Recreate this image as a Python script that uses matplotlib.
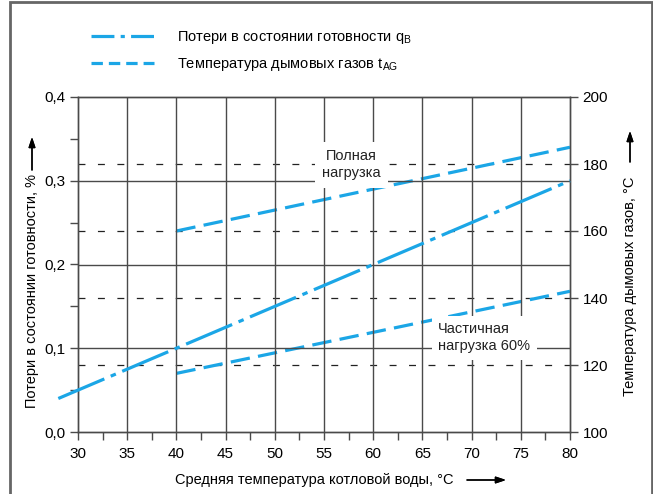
import numpy as np
import matplotlib.pyplot as plt
from matplotlib.lines import Line2D
from matplotlib.patches import Rectangle
from matplotlib.ticker import MultipleLocator, FuncFormatter

plt.rcParams['font.family'] = ['Liberation Sans', 'DejaVu Sans']
plt.rcParams['lines.scale_dashes'] = False

# data
water_temp_q = [28, 80]          # boiler water temperature, degC
standby_loss = [0.04, 0.30]      # q_B, %
water_temp_t = [40, 80]
flue_full = [160, 185]           # flue gas temperature, full load
flue_part = [117.5, 142]         # flue gas temperature, part load 60%

label_q = 'Потери в состоянии готовности q$_\\mathregular{B}$'
label_t = 'Температура дымовых газов t$_\\mathregular{AG}$'

blue = '#1ba6e6'
grid_c = '#4a4a4a'

W, H = 653, 494
fig = plt.figure(figsize=(W / 100, H / 100), dpi=100)
ax = fig.add_axes([78 / W, 1 - 432 / H, 492 / W, 335 / H])
ax2 = ax.twinx()

# grid first (under the curves)
for xv in range(35, 80, 5):
    ax.axvline(xv, color=grid_c, lw=1.0, zorder=1)
for yv in [0.1, 0.2, 0.3]:
    ax.axhline(yv, color=grid_c, lw=1.0, zorder=1)
for yv in [120, 140, 160, 180]:
    ax2.axhline(yv, color='#222222', lw=0.9, dashes=(5, 9), zorder=1)

ax.plot(water_temp_q, standby_loss, color=blue, lw=2.3,
        dashes=(36, 5, 4, 5), clip_on=False, zorder=4,
        solid_capstyle='butt', dash_capstyle='butt')
ax2.plot(water_temp_t, flue_full, color=blue, lw=2.3, dashes=(14, 6), zorder=4)
ax2.plot(water_temp_t, flue_part, color=blue, lw=2.3, dashes=(14, 6), zorder=4)

ax.set_xlim(30, 80)
ax.set_ylim(0, 0.4)
ax2.set_ylim(100, 200)

ax.xaxis.set_major_locator(MultipleLocator(5))
ax.xaxis.set_minor_locator(MultipleLocator(2.5))
ax.yaxis.set_major_locator(MultipleLocator(0.1))
ax.yaxis.set_minor_locator(MultipleLocator(0.05))
ax.yaxis.set_major_formatter(FuncFormatter(lambda v, p: f'{v:.1f}'.replace('.', ',')))
ax2.yaxis.set_major_locator(MultipleLocator(20))

for a in (ax, ax2):
    a.tick_params(which='both', direction='out', length=6, width=1,
                  color=grid_c, labelsize=11, pad=3)
    for s in a.spines.values():
        s.set_color(grid_c)
        s.set_linewidth(1.0)
ax.tick_params(axis='x', pad=5)
ax.set_zorder(ax2.get_zorder() + 1)
ax.patch.set_visible(False)
ax2.set_zorder(0)

# curve labels
ax.text(57.8, 0.319, 'Полная\nнагрузка', ha='center', va='center', fontsize=10.5,
        color='#222222', linespacing=1.25, zorder=3,
        bbox=dict(boxstyle='square,pad=0.5', fc='white', ec='none'))
ax.text(66.6, 0.1126, 'Частичная\nнагрузка 60%', ha='left', va='center',
        fontsize=10.5, color='#222222', linespacing=1.25, zorder=3,
        bbox=dict(boxstyle='square,pad=0.45', fc='white', ec='none'))

# axis titles with arrows
px = lambda x, y: (x / W, 1 - y / H)
fig.text(*px(32, 291), 'Потери в состоянии готовности, %', rotation=90,
         ha='center', va='center', fontsize=10.5)
fig.text(*px(630, 286), 'Температура дымовых газов, °C', rotation=90,
         ha='center', va='center', fontsize=10.5)
fig.text(*px(314, 480), 'Средняя температура котловой воды, °C',
         ha='center', va='center', fontsize=10.5)
arrow = dict(arrowstyle='-|>,head_length=0.6,head_width=0.2', color='black',
             lw=1.0, shrinkA=0, shrinkB=0)
for start, end in [((32, 170), (32, 137)), ((630, 162), (630, 131)),
                   ((467, 480), (506, 480))]:
    fig.add_artist(plt.annotate('', xy=px(*end), xytext=px(*start),
                                xycoords='figure fraction',
                                textcoords='figure fraction', arrowprops=arrow))

# legend (proxy handles so the samples show the reference pattern)
h_q = Line2D([], [], color=blue, lw=2.3, dashes=(16.5, 4.5, 3, 4.5),
             dash_capstyle='butt')
h_t = Line2D([], [], color=blue, lw=2.3, dashes=(8.2, 4.3), dash_capstyle='butt')
fig.legend(handles=[h_q, h_t], labels=[label_q, label_t], loc='center left',
           bbox_to_anchor=(91 / W, 1 - 51 / H), frameon=False, fontsize=10.5,
           handlelength=4.35, handletextpad=1.55, labelspacing=0.7,
           borderpad=0, borderaxespad=0)

fig.add_artist(Rectangle((10 / W, -0.01), (W - 11) / W, 1 - 2 / H + 0.01,
                         transform=fig.transFigure, fill=False,
                         ec='#666666', lw=2))

fig.savefig('out.png', dpi=100)
